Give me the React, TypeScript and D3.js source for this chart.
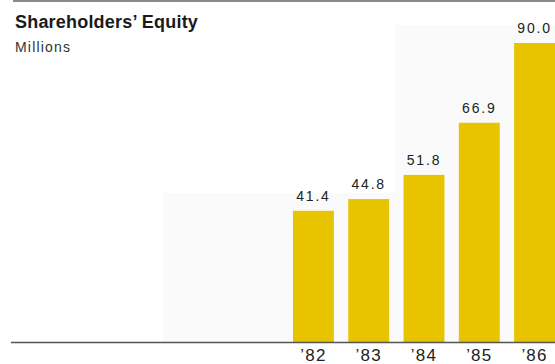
import React from "react";
import * as d3 from "d3";

const years = ["’82", "’83", "’84", "’85", "’86"];
const equity = [41.4, 44.8, 51.8, 66.9, 90.0];
const valueLabels = ["41.4", "44.8", "51.8", "66.9", "90.0"];

const W = 555;
const H = 364;

export default function App() {
  const x = d3.scaleBand<string>().domain(years).range([293, 555]).paddingInner(0.26).paddingOuter(0);
  const y = d3.scaleLinear().domain([3.4, 90]).range([342, 43]);
  const base = y(3.4);
  const font = "'Liberation Sans', Arial, Helvetica, sans-serif";

  return (
    <svg
      width={W}
      height={H}
      viewBox={`0 0 ${W} ${H}`}
      style={{ position: "absolute", left: 0, top: 0, background: "#ffffff" }}
    >
      <rect x={0} y={0} width={W} height={H} fill="#ffffff" />
      <rect x={163} y={193} width={W - 163} height={149} fill="#fafafa" />
      <rect x={395} y={25} width={W - 395} height={170} fill="#fafafa" />
      <line x1={13} x2={W} y1={1} y2={1} stroke="#8a8a8a" strokeWidth={2} />
      <text x={15} y={28} fontFamily={font} fontWeight="bold" fontSize={18} letterSpacing={0.2} fill="#1a1a1a">
        Shareholders’ Equity
      </text>
      <text x={15} y={52} fontFamily={font} fontSize={14} letterSpacing={1.2} fill="#333">
        Millions
      </text>
      {years.map((yr, i) => {
        const bx = x(yr)!;
        const top = y(equity[i]);
        return (
          <g key={yr}>
            <rect x={bx} y={top} width={x.bandwidth()} height={base - top} fill="#E8C400" />
            <text
              x={bx + x.bandwidth() / 2}
              y={top - 10}
              textAnchor="middle"
              fontFamily={font}
              fontSize={14}
              letterSpacing={1.8}
              fill="#222"
            >
              {valueLabels[i]}
            </text>
            <text
              x={bx + x.bandwidth() / 2}
              y={361}
              textAnchor="middle"
              fontFamily={font}
              fontSize={17}
              letterSpacing={1.2}
              fill="#222"
            >
              {yr}
            </text>
          </g>
        );
      })}
      <line x1={11} x2={W} y1={base + 0.5} y2={base + 0.5} stroke="#555" strokeWidth={1.5} />
    </svg>
  );
}
